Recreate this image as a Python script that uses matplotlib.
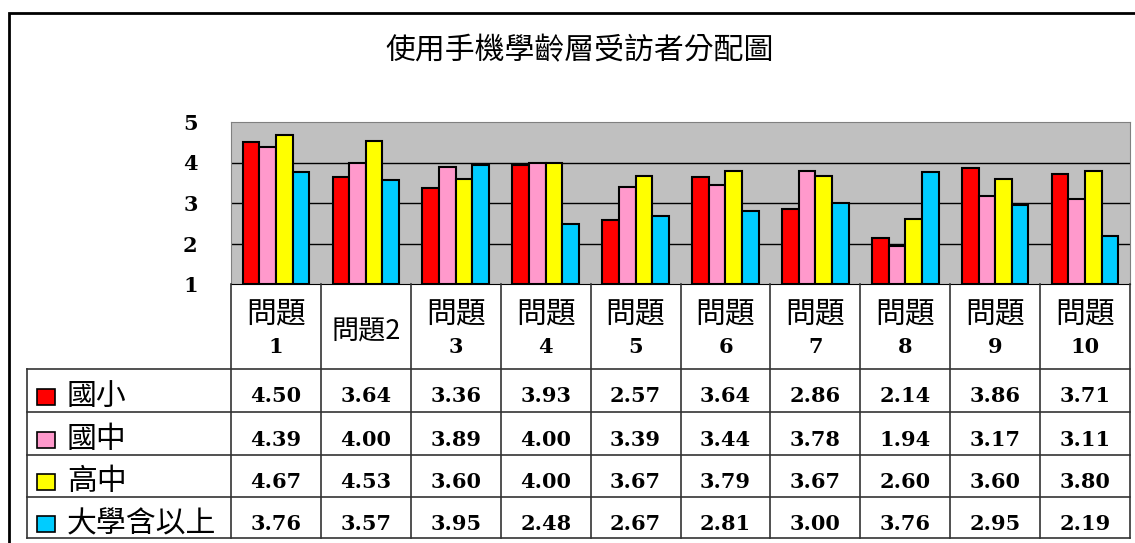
import matplotlib.pyplot as plt
from matplotlib.patches import Rectangle
import numpy as np

plt.rcParams['font.family'] = ['Noto Sans CJK TC', 'DejaVu Sans']

# data
title = "使用手機學齡層受訪者分配圖"
headers = ["問題\n1", "問題2", "問題\n3", "問題\n4", "問題\n5",
           "問題\n6", "問題\n7", "問題\n8", "問題\n9", "問題\n10"]
groups = ["國小", "國中", "高中", "大學含以上"]
elem = [4.50, 3.64, 3.36, 3.93, 2.57, 3.64, 2.86, 2.14, 3.86, 3.71]
junior = [4.39, 4.00, 3.89, 4.00, 3.39, 3.44, 3.78, 1.94, 3.17, 3.11]
senior = [4.67, 4.53, 3.60, 4.00, 3.67, 3.79, 3.67, 2.60, 3.60, 3.80]
college = [3.76, 3.57, 3.95, 2.48, 2.67, 2.81, 3.00, 3.76, 2.95, 2.19]
series = [elem, junior, senior, college]
colors = ["#FF0000", "#FF99CC", "#FFFF00", "#00CCFF"]

W, H = 1135, 543
fig = plt.figure(figsize=(W / 100, H / 100), dpi=100)

def px(x0, y0, x1, y1):
    # pixel box -> figure fraction rect
    return [x0 / W, 1 - y1 / H, (x1 - x0) / W, (y1 - y0) / H]

# outer frame
fig.patches.append(Rectangle((9 / W, -0.05), 1.1, 1 - 13 / H + 0.05, transform=fig.transFigure,
                             fill=False, edgecolor="black", linewidth=2))

fig.text(580 / W, 1 - 51 / H, title, ha="center", va="center", fontsize=21.5, fontweight="light")

# bar chart
ax = fig.add_axes(px(231, 122, 1130, 284))
ax.set_facecolor("#C0C0C0")
x = np.arange(len(headers))
bw = 0.185
for i, (vals, c) in enumerate(zip(series, colors)):
    v = np.array(vals)
    ax.bar(x + (i - 1.5) * bw, v - 1, bw, bottom=1, color=c, edgecolor="black", linewidth=1.5, zorder=3)
ax.set_xlim(-0.5, len(headers) - 0.5)
ax.set_ylim(1, 5)
ax.set_yticks([1, 2, 3, 4, 5])
for g in [2, 3, 4]:
    ax.axhline(g, color="black", linewidth=1, zorder=1)
ax.set_xticks([])
ax.tick_params(axis="y", length=0, pad=24)
for lab in ax.get_yticklabels():
    lab.set_fontfamily("DejaVu Serif")
    lab.set_fontweight("bold")
    lab.set_fontsize(15)
for s in ["top", "right", "left"]:
    ax.spines[s].set_color("#808080")
ax.spines["bottom"].set_color("black")

# data table
tb = fig.add_axes(px(27, 284, 1130, 538))
ncat = len(headers)
left = -0.5 - 204 / 89.9
tb.set_xlim(left, ncat - 0.5)
tb.set_ylim(254, 0)
tb.axis("off")
row_top = [85, 128, 171, 213]
row_bot = [128, 171, 213, 254]
lc = "#333333"
for k in range(ncat + 1):
    tb.plot([k - 0.5, k - 0.5], [0, 254], color=lc, linewidth=1.2, clip_on=False)
tb.plot([left, left], [85, 254], color=lc, linewidth=1.2, clip_on=False)
for yy in [85, 128, 171, 213, 254]:
    tb.plot([left, ncat - 0.5], [yy, yy], color=lc, linewidth=1.2, clip_on=False)

for k, h in enumerate(headers):
    if "\n" in h:
        a, b = h.split("\n")
        tb.text(k, 30, a, ha="center", va="center", fontsize=21.5, fontweight="light")
        tb.text(k, 63, b, ha="center", va="center", fontsize=15,
                family="DejaVu Serif", fontweight="bold")
    else:
        tb.text(k, 48, h, ha="center", va="center", fontsize=19.5, fontweight="light")

for r, (g, vals, c) in enumerate(zip(groups, series, colors)):
    yc = (row_top[r] + row_bot[r]) / 2 + 6
    tb.add_patch(Rectangle((left + 10 / 89.9, yc - 8), 18 / 89.9, 16, facecolor=c,
                           edgecolor="black", linewidth=1.2, clip_on=False))
    tb.text(left + 40 / 89.9, yc, g, ha="left", va="center", fontsize=21.5, fontweight="light")
    for k, v in enumerate(vals):
        tb.text(k, yc, f"{v:.2f}", ha="center", va="center", fontsize=15,
                family="DejaVu Serif", fontweight="bold")

fig.savefig("out.png", dpi=100)
